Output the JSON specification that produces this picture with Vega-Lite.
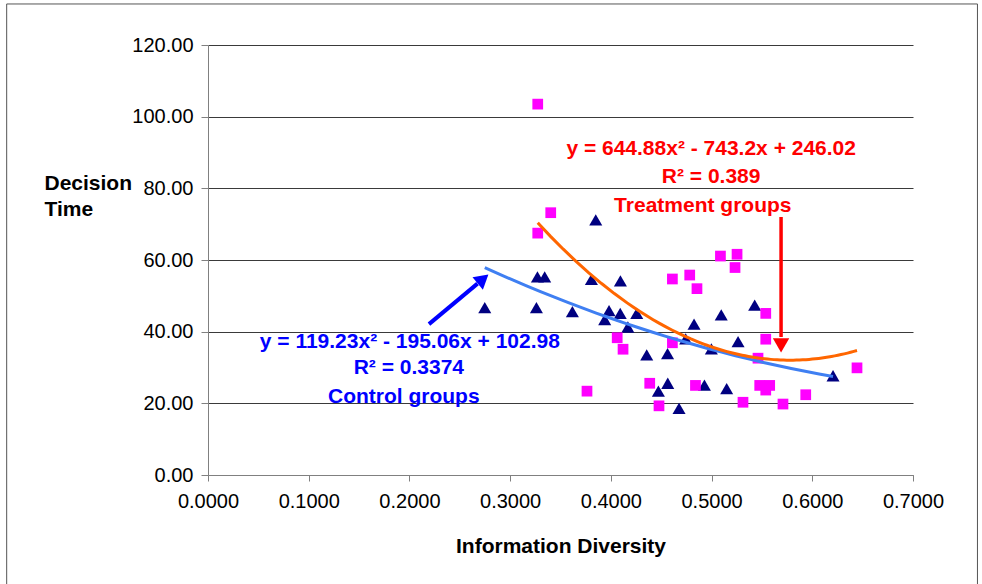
{
  "$schema": "https://vega.github.io/schema/vega-lite/v6.json",
  "width": 705,
  "height": 430,
  "autosize": {"type": "none"},
  "padding": {"left": 208, "top": 45, "right": 69, "bottom": 109},
  "background": "white",
  "config": {
    "view": {"stroke": null},
    "font": "Liberation Sans",
    "axis": {"labelFont": "Liberation Sans", "titleFont": "Liberation Sans", "labelColor": "black", "titleColor": "black", "labelFontSize": 20, "titleFontSize": 21, "titleFontWeight": "bold", "domainColor": "#808080", "tickColor": "#808080", "labelOverlap": false, "labelFlush": false}
  },
  "datasets": {
    "control": [
      {"diversity": 0.2748, "time": 46.7}, {"diversity": 0.3261, "time": 46.7}, {"diversity": 0.3271, "time": 55.3},
      {"diversity": 0.3343, "time": 55.3}, {"diversity": 0.3618, "time": 45.6}, {"diversity": 0.3807, "time": 54.6},
      {"diversity": 0.3850, "time": 71.2}, {"diversity": 0.3939, "time": 43.4}, {"diversity": 0.3982, "time": 45.9},
      {"diversity": 0.4095, "time": 54.2}, {"diversity": 0.4093, "time": 45.1}, {"diversity": 0.4169, "time": 41.3},
      {"diversity": 0.4257, "time": 45.1}, {"diversity": 0.4356, "time": 33.5}, {"diversity": 0.4472, "time": 23.4},
      {"diversity": 0.4563, "time": 33.9}, {"diversity": 0.4565, "time": 25.6}, {"diversity": 0.4677, "time": 18.6},
      {"diversity": 0.4743, "time": 38.0}, {"diversity": 0.4826, "time": 42.1}, {"diversity": 0.4929, "time": 25.1},
      {"diversity": 0.4998, "time": 35.2}, {"diversity": 0.5096, "time": 44.7}, {"diversity": 0.5150, "time": 24.1},
      {"diversity": 0.5263, "time": 37.2}, {"diversity": 0.5428, "time": 47.4}, {"diversity": 0.6206, "time": 27.7}
    ],
    "treatment": [
      {"diversity": 0.3274, "time": 103.5}, {"diversity": 0.3403, "time": 73.2}, {"diversity": 0.3274, "time": 67.5},
      {"diversity": 0.3763, "time": 23.4}, {"diversity": 0.4063, "time": 38.3}, {"diversity": 0.4121, "time": 35.1},
      {"diversity": 0.4386, "time": 25.6}, {"diversity": 0.4478, "time": 19.3}, {"diversity": 0.4611, "time": 54.7},
      {"diversity": 0.4611, "time": 36.9}, {"diversity": 0.4783, "time": 55.8}, {"diversity": 0.4855, "time": 52.0},
      {"diversity": 0.4840, "time": 25.0}, {"diversity": 0.5088, "time": 61.1}, {"diversity": 0.5253, "time": 61.6},
      {"diversity": 0.5233, "time": 57.9}, {"diversity": 0.5312, "time": 20.3}, {"diversity": 0.5461, "time": 32.6},
      {"diversity": 0.5478, "time": 25.0}, {"diversity": 0.5577, "time": 25.0}, {"diversity": 0.5538, "time": 23.7},
      {"diversity": 0.5538, "time": 45.1}, {"diversity": 0.5538, "time": 37.9}, {"diversity": 0.5709, "time": 19.8},
      {"diversity": 0.5935, "time": 22.4}, {"diversity": 0.6444, "time": 29.9}
    ],
    "notes": [
      {"group": "Treatment", "label": "y = 644.88x² - 743.2x + 246.02", "nx": 0.4996, "ny": 90.9},
      {"group": "Treatment", "label": "R² = 0.389", "nx": 0.4996, "ny": 83.1},
      {"group": "Treatment", "label": "Treatment groups", "nx": 0.4913, "ny": 75.1},
      {"group": "Control", "label": "y = 119.23x² - 195.06x + 102.98", "nx": 0.2004, "ny": 37.2},
      {"group": "Control", "label": "R² = 0.3374", "nx": 0.1994, "ny": 29.8},
      {"group": "Control", "label": "Control groups", "nx": 0.1944, "ny": 21.9}
    ],
    "arrows": [
      {"group": "Control", "ax1": 0.2194, "ay1": 42.1, "ax2": 0.2676, "ay2": 53.4, "hx": 0.2731, "hy": 54.7},
      {"group": "Treatment", "ax1": 0.5690, "ay1": 72.0, "ax2": 0.5690, "ay2": 38.5, "hx": 0.5690, "hy": 36.2}
    ],
    "frame": [
      {"fx1": -0.1999, "fx2": 0.764, "fy1": 131.45, "fy2": -31}
    ]
  },
  "layer": [
    {
      "data": {"name": "frame"},
      "mark": {"type": "rect", "fillOpacity": 0, "stroke": "#555555", "strokeWidth": 1},
      "encoding": {
        "x": {"field": "fx1", "type": "quantitative", "scale": {"domain": [0, 0.7], "nice": false, "zero": false}},
        "x2": {"field": "fx2"},
        "y": {"field": "fy1", "type": "quantitative", "scale": {"domain": [0, 120], "nice": false}},
        "y2": {"field": "fy2"}
      }
    },
    {
      "data": {"name": "control"},
      "mark": {"type": "point", "shape": "triangle-up", "filled": true, "color": "#000080", "opacity": 1, "size": 170},
      "encoding": {
        "x": {"field": "diversity", "type": "quantitative", "scale": {"domain": [0, 0.7], "nice": false, "zero": false},
          "axis": {"values": [0, 0.1, 0.2, 0.3, 0.4, 0.5, 0.6, 0.7], "format": ".4f", "grid": false, "tickSize": 6, "labelPadding": 10, "title": "Information Diversity", "titlePadding": 24}},
        "y": {"field": "time", "type": "quantitative", "scale": {"domain": [0, 120], "nice": false},
          "axis": {"values": [0, 20, 40, 60, 80, 100, 120], "format": ".2f", "grid": true, "gridColor": "#3a3a3a", "tickSize": 7, "labelPadding": 8,
            "title": ["Decision", "Time"], "titleAngle": 0, "titleAlign": "left", "titleBaseline": "alphabetic", "titleX": -164, "titleY": 144, "titleLineHeight": 26.6}}
      }
    },
    {
      "data": {"name": "treatment"},
      "mark": {"type": "point", "shape": "square", "filled": true, "color": "#FF00FF", "opacity": 1, "size": 115},
      "encoding": {
        "x": {"field": "diversity", "type": "quantitative"},
        "y": {"field": "time", "type": "quantitative"}
      }
    },
    {
      "data": {"name": "control"},
      "transform": [{"regression": "time", "on": "diversity", "method": "poly", "order": 2}],
      "mark": {"type": "line", "color": "#3F7FF2", "strokeWidth": 3},
      "encoding": {
        "x": {"field": "diversity", "type": "quantitative"},
        "y": {"field": "time", "type": "quantitative"}
      }
    },
    {
      "data": {"name": "treatment"},
      "transform": [{"regression": "time", "on": "diversity", "method": "poly", "order": 2}],
      "mark": {"type": "line", "color": "#FF6600", "strokeWidth": 3},
      "encoding": {
        "x": {"field": "diversity", "type": "quantitative"},
        "y": {"field": "time", "type": "quantitative"}
      }
    },
    {
      "data": {"name": "arrows"},
      "transform": [{"filter": "datum.group === 'Control'"}],
      "mark": {"type": "rule", "color": "#0000FF", "strokeWidth": 4},
      "encoding": {
        "x": {"field": "ax1", "type": "quantitative"}, "x2": {"field": "ax2"},
        "y": {"field": "ay1", "type": "quantitative"}, "y2": {"field": "ay2"}
      }
    },
    {
      "data": {"name": "arrows"},
      "transform": [{"filter": "datum.group === 'Control'"}],
      "mark": {"type": "point", "shape": "triangle-up", "filled": true, "color": "#0000FF", "opacity": 1, "size": 260, "angle": 50},
      "encoding": {
        "x": {"field": "hx", "type": "quantitative"},
        "y": {"field": "hy", "type": "quantitative"}
      }
    },
    {
      "data": {"name": "arrows"},
      "transform": [{"filter": "datum.group === 'Treatment'"}],
      "mark": {"type": "rule", "color": "#FF0000", "strokeWidth": 3.5},
      "encoding": {
        "x": {"field": "ax1", "type": "quantitative"}, "x2": {"field": "ax2"},
        "y": {"field": "ay1", "type": "quantitative"}, "y2": {"field": "ay2"}
      }
    },
    {
      "data": {"name": "arrows"},
      "transform": [{"filter": "datum.group === 'Treatment'"}],
      "mark": {"type": "point", "shape": "triangle-down", "filled": true, "color": "#FF0000", "opacity": 1, "size": 270},
      "encoding": {
        "x": {"field": "hx", "type": "quantitative"},
        "y": {"field": "hy", "type": "quantitative"}
      }
    },
    {
      "data": {"name": "notes"},
      "transform": [{"filter": "datum.group === 'Treatment'"}],
      "mark": {"type": "text", "color": "#FF0000", "font": "Liberation Sans", "fontWeight": "bold", "fontSize": 21, "align": "center", "baseline": "middle"},
      "encoding": {
        "x": {"field": "nx", "type": "quantitative"},
        "y": {"field": "ny", "type": "quantitative"},
        "text": {"field": "label"}
      }
    },
    {
      "data": {"name": "notes"},
      "transform": [{"filter": "datum.group === 'Control'"}],
      "mark": {"type": "text", "color": "#0000FF", "font": "Liberation Sans", "fontWeight": "bold", "fontSize": 21, "align": "center", "baseline": "middle"},
      "encoding": {
        "x": {"field": "nx", "type": "quantitative"},
        "y": {"field": "ny", "type": "quantitative"},
        "text": {"field": "label"}
      }
    }
  ]
}
